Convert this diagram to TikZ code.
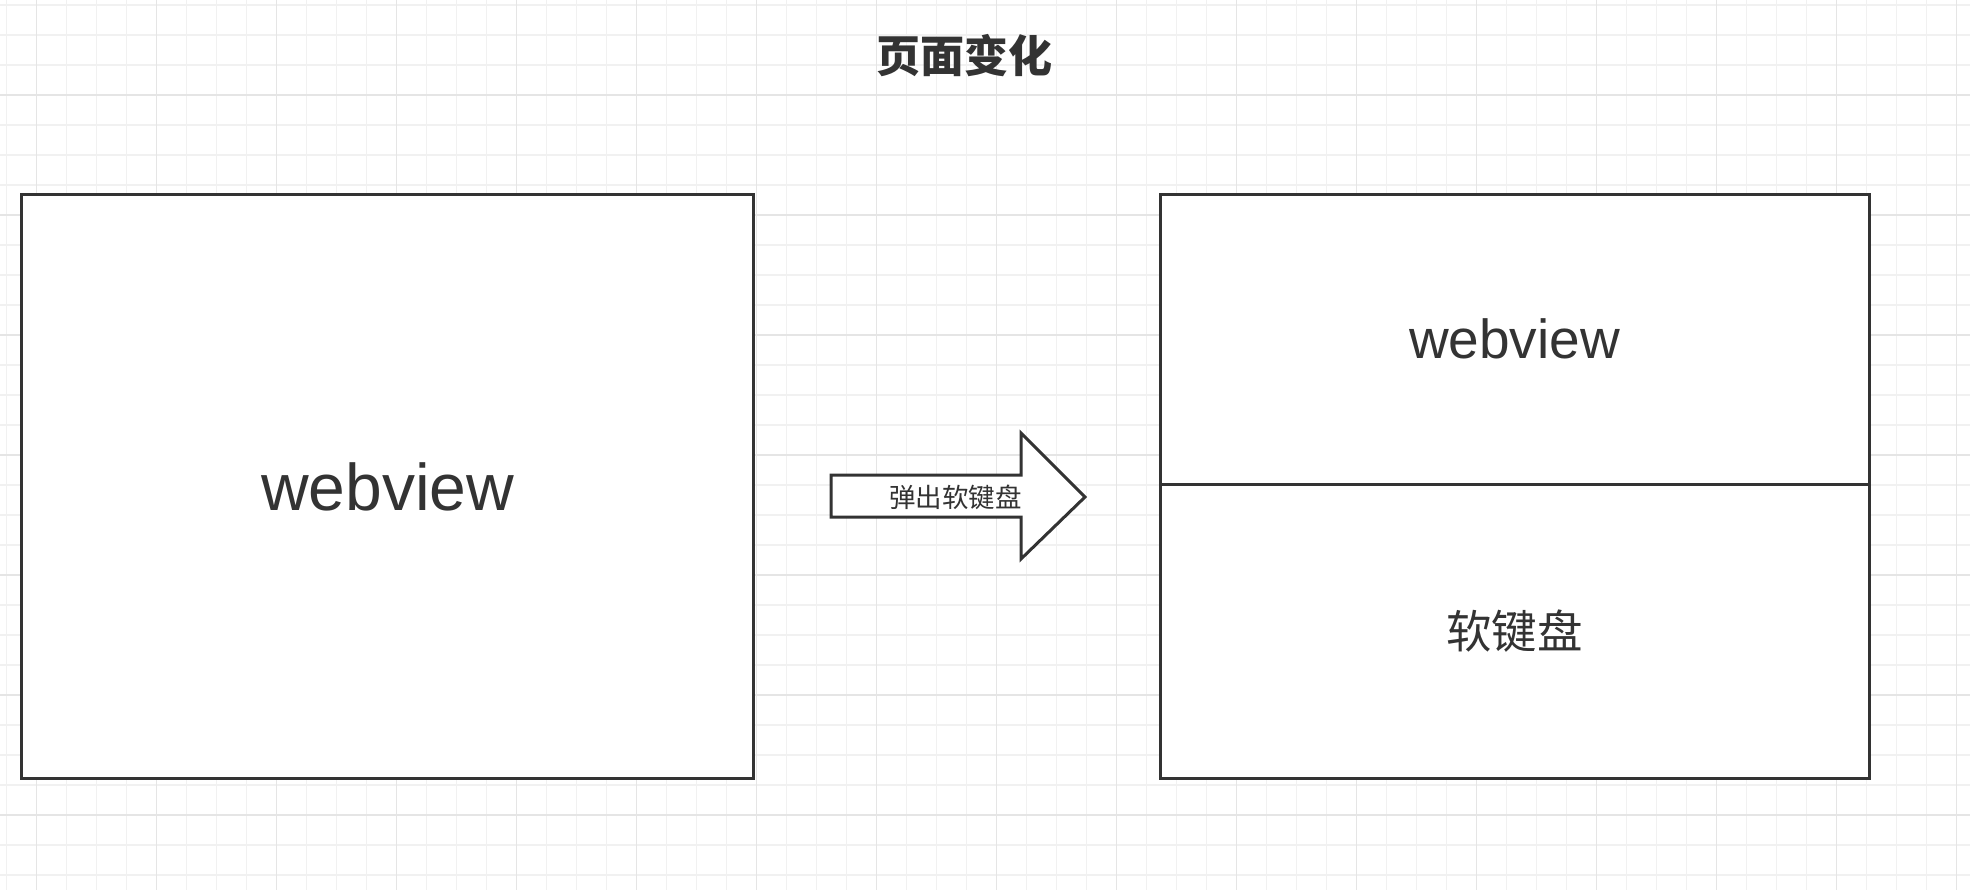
\documentclass[tikz,border=0pt]{standalone}
\usepackage{fontspec}
\setmainfont{Liberation Sans}
\newfontfamily\cjk{Noto Sans CJK SC}
\usetikzlibrary{
    positioning
}
\definecolor{ink}{HTML}{333333}
\definecolor{gridminor}{HTML}{F1F1F1}
\definecolor{gridmajor}{HTML}{E5E5E5}
\tikzset{
    every picture/.style = {
        x = 1pt,
        y = -1pt
    },
    pagebox/.style = {
        draw = ink,
        line width = 3pt,
        fill = white,
        rectangle,
        inner sep = 0pt,
        outer sep = 0pt,
        text = ink
    },
    minorline/.style = {
        draw = gridminor,
        line width = 1.5pt
    },
    majorline/.style = {
        draw = gridmajor,
        line width = 1.5pt
    }
}

\begin{document}
\begin{tikzpicture}

    \useasboundingbox[fill = white] (0, 0) rectangle (1970, 890);

    % grid
    \foreach \k in {0, ..., 65} {
        \draw[minorline] ({6.67 + 30*\k}, 0) -- ({6.67 + 30*\k}, 890);
    }
    \foreach \k in {0, ..., 29} {
        \draw[minorline] (0, {5 + 30*\k}) -- (1970, {5 + 30*\k});
    }
    \foreach \k in {0, ..., 16} {
        \draw[majorline] ({36.67 + 120*\k}, 0) -- ({36.67 + 120*\k}, 890);
    }
    \foreach \k in {0, ..., 6} {
        \draw[majorline] (0, {95 + 120*\k}) -- (1970, {95 + 120*\k});
    }

    \node[inner sep = 0pt, text = ink, font = \cjk\bfseries\fontsize{44}{50}\selectfont] (title) at (964, 56) {页面变化};

    \node[pagebox, minimum width = 732, minimum height = 584, font = \fontsize{66}{78}\selectfont] (oldpage) at (387.6, 486.5) {webview};

    \node[pagebox, minimum width = 709, minimum height = 289.5, font = \fontsize{55}{64}\selectfont] (webview) at (1514.5, 339.25) {webview};
    \node[pagebox, minimum width = 709, minimum height = 294.5, below = 0pt of webview, font = \cjk\fontsize{45.5}{52}\selectfont] (keyboard) {软键盘};

    \filldraw[fill = white, draw = ink, line width = 3pt, line join = miter] (831, 475) -- (1021, 475) -- (1021, 433) -- (1085, 497) -- (1021, 559) -- (1021, 517) -- (831, 517) -- cycle;
    \node[anchor = east, inner sep = 0pt, text = ink, font = \cjk\fontsize{26.5}{30}\selectfont] (popup) at (1022, 497.5) {弹出软键盘};

\end{tikzpicture}
\end{document}
